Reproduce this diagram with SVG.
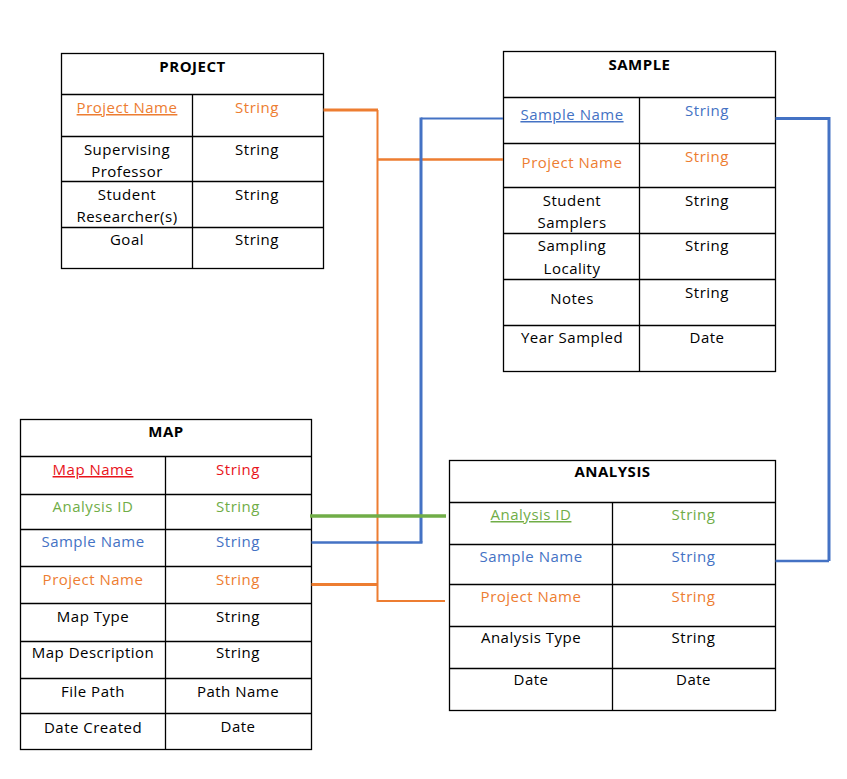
<svg xmlns="http://www.w3.org/2000/svg" width="847" height="779" viewBox="0 0 847 779">
  <style>
    .box { fill: #ffffff; stroke: #000000; stroke-width: 1.3; }
    .grid { stroke: #000000; stroke-width: 1.3; fill: none; }
    text { font-family: "Open Sans", "Liberation Sans", sans-serif; font-size: 15px; letter-spacing: 0.5px; text-anchor: middle; fill: #000000; }
    .hdr { font-weight: bold; }
    .key { text-decoration: underline; }
    .or { fill: #ED7D31; }
    .bl { fill: #4472C4; }
    .gr { fill: #70AD47; }
    .rd { fill: #E8141B; }
    .c-or { stroke: #ED7D31; fill: none; }
    .c-bl { stroke: #4472C4; fill: none; }
    .c-gr { stroke: #70AD47; fill: none; }
  </style>
  <rect width="847" height="779" fill="#ffffff"/>

  <!-- PROJECT entity -->
  <g id="project">
    <rect class="box" x="61.5" y="53.5" width="262" height="215"/>
    <path class="grid" d="M61.5 94.5H323.5M61.5 136.5H323.5M61.5 181.5H323.5M61.5 227.5H323.5M192.5 94.5V268.5"/>
    <text class="hdr" x="192.5" y="72">PROJECT</text>
    <text class="or key" x="127" y="113">Project Name</text>
    <text class="or" x="257" y="113">String</text>
    <text x="127" y="155">Supervising</text>
    <text x="127" y="176.5">Professor</text>
    <text x="257" y="155">String</text>
    <text x="127" y="200">Student</text>
    <text x="127" y="221.5">Researcher(s)</text>
    <text x="257" y="200">String</text>
    <text x="127" y="245">Goal</text>
    <text x="257" y="245">String</text>
  </g>

  <!-- SAMPLE entity -->
  <g id="sample">
    <rect class="box" x="503.5" y="51.5" width="272" height="320"/>
    <path class="grid" d="M503.5 97.5H775.5M503.5 143.5H775.5M503.5 187.5H775.5M503.5 233.5H775.5M503.5 279.5H775.5M503.5 325.5H775.5M639.5 97.5V371.5"/>
    <text class="hdr" x="639.5" y="70">SAMPLE</text>
    <text class="bl key" x="572" y="120">Sample Name</text>
    <text class="bl" x="707" y="116">String</text>
    <text class="or" x="572" y="167.5">Project Name</text>
    <text class="or" x="707" y="162">String</text>
    <text x="572" y="206">Student</text>
    <text x="572" y="227.5">Samplers</text>
    <text x="707" y="206">String</text>
    <text x="572" y="251">Sampling</text>
    <text x="572" y="273.5">Locality</text>
    <text x="707" y="251">String</text>
    <text x="572" y="304">Notes</text>
    <text x="707" y="297.5">String</text>
    <text x="572" y="343">Year Sampled</text>
    <text x="707" y="343">Date</text>
  </g>

  <!-- MAP entity -->
  <g id="map">
    <rect class="box" x="20.5" y="419.5" width="291" height="330"/>
    <path class="grid" d="M20.5 456.5H311.5M20.5 494.5H311.5M20.5 529.5H311.5M20.5 566.5H311.5M20.5 603.5H311.5M20.5 641.5H311.5M20.5 678.5H311.5M20.5 713.5H311.5M165.5 456.5V749.5"/>
    <text class="hdr" x="166" y="437">MAP</text>
    <text class="rd key" x="93" y="475">Map Name</text>
    <text class="rd" x="238" y="475">String</text>
    <text class="gr" x="93" y="511.5">Analysis ID</text>
    <text class="gr" x="238" y="511.5">String</text>
    <text class="bl" x="93" y="546.5">Sample Name</text>
    <text class="bl" x="238" y="546.5">String</text>
    <text class="or" x="93" y="585">Project Name</text>
    <text class="or" x="238" y="585">String</text>
    <text x="93" y="621.5">Map Type</text>
    <text x="238" y="621.5">String</text>
    <text x="93" y="658">Map Description</text>
    <text x="238" y="658">String</text>
    <text x="93" y="696.5">File Path</text>
    <text x="238" y="696.5">Path Name</text>
    <text x="93" y="732.5">Date Created</text>
    <text x="238" y="731.5">Date</text>
  </g>

  <!-- ANALYSIS entity -->
  <g id="analysis">
    <rect class="box" x="449.5" y="460.5" width="326" height="250"/>
    <path class="grid" d="M449.5 502.5H775.5M449.5 544.5H775.5M449.5 584.5H775.5M449.5 626.5H775.5M449.5 668.5H775.5M612.5 502.5V710.5"/>
    <text class="hdr" x="612.5" y="477">ANALYSIS</text>
    <text class="gr key" x="531" y="520">Analysis ID</text>
    <text class="gr" x="693.5" y="520">String</text>
    <text class="bl" x="531" y="561.5">Sample Name</text>
    <text class="bl" x="693.5" y="561.5">String</text>
    <text class="or" x="531" y="601.5">Project Name</text>
    <text class="or" x="693.5" y="601.5">String</text>
    <text x="531" y="643">Analysis Type</text>
    <text x="693.5" y="643">String</text>
    <text x="531" y="685">Date</text>
    <text x="693.5" y="685">Date</text>
  </g>

  <!-- key relationships -->
  <g id="connectors">
    <!-- Project Name links -->
    <path class="c-or" stroke-width="3" d="M323.5 110H378"/>
    <path class="c-or" stroke-width="2" d="M377.5 110V601H445"/>
    <path class="c-or" stroke-width="2.5" d="M377.5 159.5H503"/>
    <path class="c-or" stroke-width="3" d="M311.5 584.5H377.5"/>
    <!-- Sample Name links -->
    <path class="c-bl" stroke-width="2" d="M503 118.5H421"/>
    <path class="c-bl" stroke-width="3" d="M421 117.5V542.5"/>
    <path class="c-bl" stroke-width="2.5" d="M422.5 542.5H311.5"/>
    <path class="c-bl" stroke-width="3" d="M775.5 118.5H829V561"/>
    <path class="c-bl" stroke-width="2.5" d="M829 561H775.5"/>
    <!-- Analysis ID link -->
    <path class="c-gr" stroke-width="3.5" d="M310 516H446"/>
  </g>
</svg>
